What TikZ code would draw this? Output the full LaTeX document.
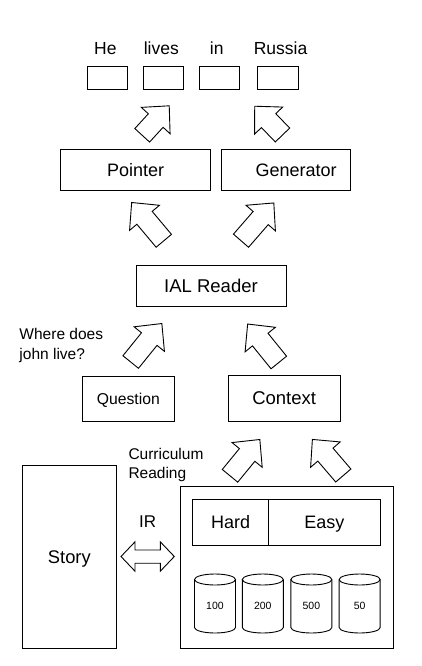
\documentclass[tikz,border=0pt]{standalone}
\usepackage{fontspec}
\setmainfont{Liberation Sans}
\newcommand{\fsz}[1]{\fontsize{#1}{#1}\selectfont}
\tikzset{
  box/.style={draw, line width=0.9pt, inner sep=0pt},
  lbl/.style={inner sep=0pt},
  ft/.style={font=\fsz{#1}, text height=0.716*#1pt, text depth=0pt},
  arrowline/.style={draw, line width=0.9pt, line join=miter, fill=white},
  pics/barrow/.style={code={\draw[arrowline] (-10,0) -- (-10,#1-20) -- (-19.5,#1-20) -- (0,#1) -- (19.5,#1-20) -- (10,#1-20) -- (10,0) -- cycle;}},
}
\newcommand{\cyl}[2]{%
  \draw[line width=0.9pt] (#1-20.5,-579.5) -- (#1-20.5,-627.5) arc (180:360:20.5 and 5.5) -- (#1+20.5,-579.5);
  \draw[line width=0.9pt] (#1,-579.5) ellipse (20.5 and 5.5);
  \node[lbl, ft=10.5] (#2) at (#1,-606) {#2};
}
\begin{document}
\begin{tikzpicture}[x=1pt,y=1pt]
\useasboundingbox (0,0) rectangle (421,-666);

% output words
\node[lbl, font=\fsz{17.5}, anchor=base] (he) at (105.3,-55) {He};
\node[lbl, font=\fsz{17.5}, anchor=base] (lives) at (161.3,-55) {lives};
\node[lbl, font=\fsz{17.5}, anchor=base] (in) at (216.7,-55) {in};
\node[lbl, font=\fsz{17.5}, anchor=base] (russia) at (280.5,-55) {Russia};
\node[box, minimum width=40, minimum height=23] (w1) at (107,-77.5) {};
\node[box, minimum width=40, minimum height=23] (w2) at (163,-77.5) {};
\node[box, minimum width=40, minimum height=23] (w3) at (219,-77.5) {};
\node[box, minimum width=41, minimum height=23] (w4) at (277.5,-77.5) {};

% pointer / generator
\node[box, ft=18, minimum width=150, minimum height=41.4] (pointer) at (135.7,-170) {Pointer};
\node[box, minimum width=128.8, minimum height=41.4] (generator) at (286.1,-170) {};
\node[lbl, ft=18] (gentext) at (296.2,-170.5) {Generator};

% reader
\node[box, ft=18.5, minimum width=150, minimum height=41] (ial) at (211,-285.5) {IAL Reader};

% question / context
\node[lbl, font=\fsz{15.5}, anchor=base west] (where1) at (19.3,-339.3) {Where does};
\node[lbl, font=\fsz{15.5}, anchor=base west] (where2) at (19.3,-359) {john live?};
\node[box, ft=15.7, minimum width=91.3, minimum height=45.7] (question) at (128.35,-398.85) {Question};
\node[box, ft=18.5, minimum width=111.7, minimum height=45.3] (context) at (284.15,-398.35) {Context};

% curriculum
\node[lbl, font=\fsz{15.5}, anchor=base west] (cur1) at (128.3,-459.3) {Curriculum};
\node[lbl, font=\fsz{15.5}, anchor=base west] (cur2) at (128.3,-478.3) {Reading};

% story and container
\node[box, ft=18.3, minimum width=93.3, minimum height=183.3] (story) at (69.35,-556.65) {Story};
\node[box, minimum width=213.3, minimum height=161.6] (container) at (286.65,-567.5) {};
\node[box, ft=18, minimum width=76, minimum height=45.7] (hard) at (230.7,-522.15) {Hard};
\node[box, ft=18, minimum width=111.3, minimum height=45.7] (easy) at (324.35,-522.15) {Easy};
\node[lbl, font=\fsz{17}, anchor=base] (ir) at (147.7,-527.3) {IR};

\cyl{215}{100}
\cyl{262.8}{200}
\cyl{311.35}{500}
\cyl{359.65}{50}

% block arrows
\pic[rotate=-42.5] at (142.2,-135.3) {barrow=40};
\pic[rotate=44] at (282.5,-135) {barrow=40};
\pic[rotate=40] at (163.8,-240.8) {barrow=50};
\pic[rotate=-41] at (241,-240.7) {barrow=50};
\pic[rotate=-39] at (130.7,-362) {barrow=49.5};
\pic[rotate=39] at (278.8,-362.5) {barrow=49.5};
\pic[rotate=-39.4] at (230,-475.8) {barrow=47};
\pic[rotate=40.6] at (343.3,-475.5) {barrow=47.5};

% IR double arrow
\draw[arrowline] (121,-556.5) -- (135,-541.8) -- (135,-550) -- (160.3,-550) -- (160.3,-541.8) -- (174.3,-556.5) -- (160.3,-571.2) -- (160.3,-563.2) -- (135,-563.2) -- (135,-571.2) -- cycle;
\end{tikzpicture}
\end{document}
